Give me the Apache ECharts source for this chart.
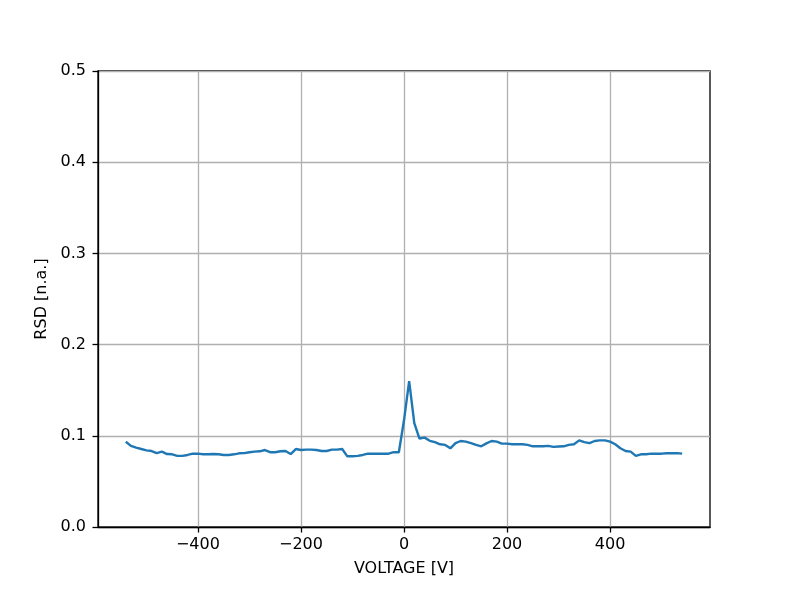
<!DOCTYPE html>
<html>
<head>
<meta charset="utf-8">
<script src="https://cdn.jsdelivr.net/npm/echarts@6/dist/echarts.min.js"></script>
<style>html,body{margin:0;padding:0;background:#fff;}#c{width:789px;height:592px;}</style>
</head>
<body>
<div id="c"></div>
<script>
const voltages = [];
for (let v = -540; v <= 540; v += 10) voltages.push(v);
const rsd = [
  0.0935, 0.089, 0.087, 0.0855, 0.084, 0.0833, 0.081, 0.0826, 0.080, 0.0797,
  0.078, 0.078, 0.079, 0.0804, 0.0804, 0.0797, 0.0797, 0.080, 0.0797, 0.079,
  0.079, 0.0797, 0.0808, 0.081, 0.0819, 0.0826, 0.083, 0.0844, 0.082, 0.082,
  0.083, 0.0833, 0.080, 0.0855, 0.0844, 0.0848, 0.0848, 0.0844, 0.0833, 0.0833,
  0.0848, 0.0848, 0.0855, 0.0775, 0.0775, 0.078, 0.079, 0.0804, 0.0804, 0.0804,
  0.0804, 0.0804, 0.082, 0.082, 0.117, 0.160, 0.114, 0.097, 0.098, 0.0945,
  0.093, 0.0907, 0.090, 0.0863, 0.092, 0.0943, 0.0936, 0.092, 0.090, 0.0885,
  0.0917, 0.0943, 0.0936, 0.0914, 0.0914, 0.0907, 0.0907, 0.0907, 0.090, 0.0885,
  0.0885, 0.0885, 0.089, 0.0878, 0.0882, 0.0885, 0.090, 0.0907, 0.095, 0.093,
  0.092, 0.0943, 0.095, 0.095, 0.0936, 0.0907, 0.0863, 0.0833, 0.0826, 0.078,
  0.0797, 0.0797, 0.0804, 0.0804, 0.0804, 0.0808, 0.0808, 0.081, 0.0804
];
const xTicks = [-400, -200, 0, 200, 400];
const yTicks = [0.0, 0.1, 0.2, 0.3, 0.4, 0.5];
const xTitle = 'VOLTAGE [V]';
const yTitle = 'RSD [n.a.]';

const chart = echarts.init(document.getElementById('c'), null, {renderer: 'canvas'});
const font = 'DejaVu Sans';
chart.setOption({
  animation: false,
  backgroundColor: '#fff',
  grid: {left: 98, right: 79, top: 71, bottom: 65, show: true, borderColor: '#000', borderWidth: 1.3, backgroundColor: 'transparent'},
  xAxis: {
    type: 'value', min: -594, max: 594,
    name: xTitle, nameLocation: 'middle', nameGap: 34,
    nameTextStyle: {fontFamily: font, fontSize: 16, color: '#000'},
    axisLine: {show: true, onZero: false, lineStyle: {color: '#000', width: 1.3}},
    axisTick: {show: true, inside: false, length: 5.5, customValues: xTicks, lineStyle: {color: '#000', width: 1.3}},
    axisLabel: {customValues: xTicks, fontFamily: font, fontSize: 16, color: '#000', margin: 10,
      formatter: v => String(v).replace('-', '\u2212')},
    splitLine: {show: true, lineStyle: {color: '#b0b0b0', width: 1.3}}
  },
  yAxis: {
    type: 'value', min: 0, max: 0.5, interval: 0.1,
    name: yTitle, nameLocation: 'middle', nameGap: 47,
    nameTextStyle: {fontFamily: font, fontSize: 16, color: '#000'},
    axisLine: {show: true, onZero: false, lineStyle: {color: '#000', width: 1.3}},
    axisTick: {show: true, inside: false, length: 5.5, lineStyle: {color: '#000', width: 1.3}},
    axisLabel: {fontFamily: font, fontSize: 16, color: '#000', margin: 12,
      formatter: v => v.toFixed(1)},
    splitLine: {show: true, lineStyle: {color: '#b0b0b0', width: 1.3}}
  },
  series: [{
    type: 'line',
    data: voltages.map((v, i) => [v, rsd[i]]),
    showSymbol: false,
    lineStyle: {color: '#1f77b4', width: 2.4},
    itemStyle: {color: '#1f77b4'}
  }]
});
</script>
</body>
</html>
